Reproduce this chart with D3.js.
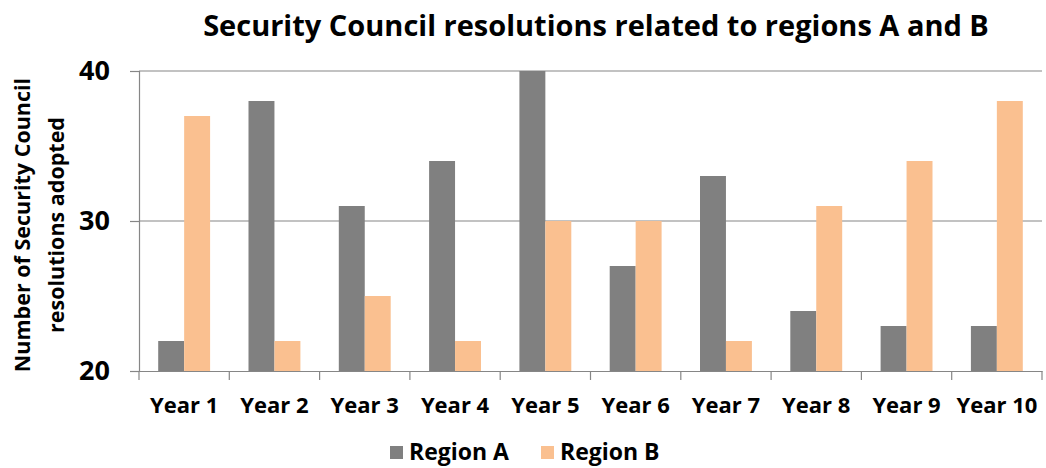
<!DOCTYPE html>
<html>
<head>
<meta charset="utf-8">
<script src="https://cdn.jsdelivr.net/npm/d3@7"></script>
<style>
  body { margin: 0; background: #fff; }
  text { font-family: "Open Sans", sans-serif; font-weight: bold; fill: #000; }
</style>
</head>
<body>
<svg id="chart" width="1046" height="468"></svg>
<script>
var years = ["Year 1", "Year 2", "Year 3", "Year 4", "Year 5", "Year 6", "Year 7", "Year 8", "Year 9", "Year 10"];
var regionA = [22, 38, 31, 34, 40, 27, 33, 24, 23, 23];
var regionB = [37, 22, 25, 22, 30, 30, 22, 31, 34, 38];
var seriesNames = ["Region A", "Region B"];
var yTicks = [20, 30, 40];

var color = d3.scaleOrdinal(seriesNames, ["#808080", "#fac090"]);
var svg = d3.select("#chart");
var plotLeft = 139, plotRight = 1042, plotTop = 71, plotBottom = 371;

var x = d3.scaleBand().domain(years).range([plotLeft, plotRight]).paddingInner(0).paddingOuter(0);
var x1 = d3.scaleBand().domain(seriesNames).range([0, x.bandwidth()]).paddingInner(0).paddingOuter(0.74);
var y = d3.scaleLinear().domain([20, 40]).range([plotBottom, plotTop]);

// gridlines
svg.append("g").selectAll("line")
  .data(yTicks.slice(1))
  .enter().append("line")
  .attr("x1", plotLeft).attr("x2", plotRight)
  .attr("y1", function(d) { return y(d); }).attr("y2", function(d) { return y(d); })
  .attr("stroke", "#868686").attr("stroke-width", 1.2);

var rows = years.map(function(yr, i) {
  return { year: yr, vals: [regionA[i], regionB[i]] };
});

var groups = svg.append("g").selectAll("g")
  .data(rows)
  .enter().append("g")
  .attr("transform", function(d) { return "translate(" + x(d.year) + ",0)"; });

groups.selectAll("rect")
  .data(function(d) { return d.vals.map(function(v, j) { return { name: seriesNames[j], v: v }; }); })
  .enter().append("rect")
  .attr("x", function(d) { return x1(d.name); })
  .attr("width", x1.bandwidth())
  .attr("y", function(d) { return y(d.v); })
  .attr("height", function(d) { return plotBottom - y(d.v); })
  .attr("fill", function(d) { return color(d.name); });

// y axis
var yAxis = svg.append("g")
  .attr("transform", "translate(" + plotLeft + ",0)")
  .call(d3.axisLeft(y).tickValues(yTicks).tickSize(9).tickPadding(20));
yAxis.selectAll("path, line").attr("stroke", "#868686").attr("stroke-width", 1.2);
yAxis.selectAll("text").style("font-size", "27px");

// x axis
var xAxis = svg.append("g")
  .attr("transform", "translate(0," + plotBottom + ")")
  .call(d3.axisBottom(x).tickSize(0).tickPadding(26));
xAxis.select("path").attr("stroke", "#868686").attr("stroke-width", 1.2);
xAxis.selectAll("text").style("font-size", "22px");
svg.append("g").selectAll("line")
  .data(years.concat(["end"]))
  .enter().append("line")
  .attr("x1", function(d, i) { return plotLeft + i * x.step(); })
  .attr("x2", function(d, i) { return plotLeft + i * x.step(); })
  .attr("y1", plotBottom).attr("y2", plotBottom + 9)
  .attr("stroke", "#868686").attr("stroke-width", 1.2);

// title
svg.append("text")
  .attr("x", 596).attr("y", 36)
  .attr("text-anchor", "middle")
  .style("font-size", "29px")
  .text("Security Council resolutions related to regions A and B");

// y axis title
var yt = svg.append("text")
  .attr("transform", "translate(0,225) rotate(-90)")
  .attr("text-anchor", "middle")
  .style("font-size", "21.5px");
yt.append("tspan").attr("x", 0).attr("y", 30).text("Number of Security Council");
yt.append("tspan").attr("x", 0).attr("y", 64).text("resolutions adopted");

// legend
var legend = svg.append("g").selectAll("g")
  .data(seriesNames)
  .enter().append("g")
  .attr("transform", function(d, i) { return "translate(" + (390 + i * 151) + ",446)"; });
legend.append("rect").attr("width", 13).attr("height", 13).attr("fill", function(d) { return color(d); });
legend.append("text").attr("x", 19).attr("y", 14).style("font-size", "23px").text(function(d) { return d; });
</script>
</body>
</html>
